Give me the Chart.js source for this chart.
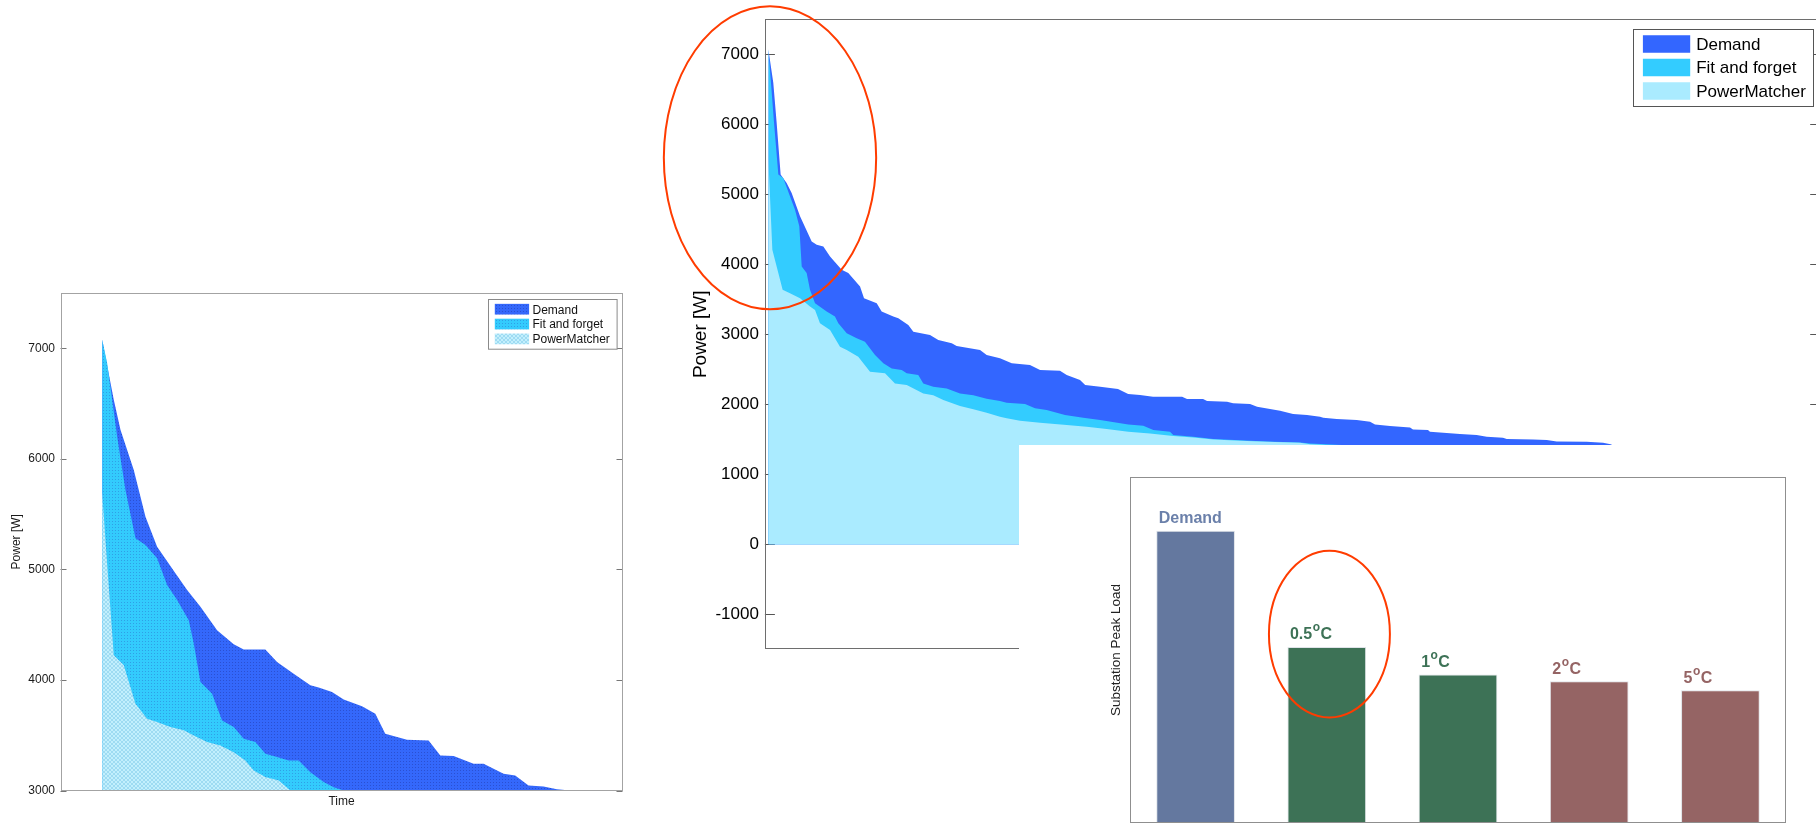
<!DOCTYPE html>
<html>
<head>
<meta charset="utf-8">
<script src="https://cdn.jsdelivr.net/npm/chart.js@4.4.1/dist/chart.umd.min.js"></script>
<style>
  html, body { margin:0; padding:0; background:#fff; overflow:hidden; width:1816px; height:824px; }
  canvas { position:absolute; display:block; }
  #zoomChart { left:0; top:280px; }
  #mainChart { left:580px; top:0; }
  #barChart  { left:1019px; top:445px; background:#fff; }
</style>
</head>
<body>
<canvas id="zoomChart" width="640" height="544"></canvas>
<canvas id="mainChart" width="1245" height="824"></canvas>
<canvas id="barChart" width="797" height="379"></canvas>
<script>
// ---------------- DATA ----------------
const seriesNames  = ["Demand", "Fit and forget", "PowerMatcher"];
const seriesColors = ["#3366ff", "#33ccff", "#aaebff"];

// Zoomed load-duration curve (left panel): time index 0..1000, power in W
const zoomTimeRange   = [0, 1000];
const zoomPowerRange  = [3000, 7500];
const zoomPowerTicks  = [3000, 4000, 5000, 6000, 7000];

const zoomDemandT = [74.1,94.8,106.7,130.4,151.2,171.9,204.5,225.3,249.0,278.6,308.2,326.0,364.5,385.3,414.9,444.6,459.4,483.1,503.9,536.5,560.2,577.9,616.5,655.0,675.8,699.5,735.0,752.8,788.4,809.1,832.8,859.5,883.2,906.9];
const zoomDemandW = [7079,6535,6263,5900,5477,5205,4964,4813,4662,4450,4323,4275,4275,4163,4057,3952,3931,3891,3822,3761,3695,3514,3459,3453,3317,3311,3242,3242,3151,3136,3045,3036,3012,3000];

const zoomFitT = [74.1,83.0,100.8,115.6,133.4,151.2,171.9,189.7,207.5,228.2,237.1,249.0,269.7,287.5,308.2,326.0,346.8,364.5,385.3,406.0,423.8,444.6,468.3,486.1,503.9];
const zoomFitW = [7079,6867,6202,5719,5281,5221,5100,4858,4722,4541,4329,3982,3876,3634,3574,3468,3438,3332,3302,3272,3272,3166,3076,3030,3000];

const zoomPmT = [74.1,83.0,94.8,112.6,133.4,154.1,171.9,195.6,219.3,237.1,260.8,284.5,308.2,329.0,343.8,364.5,388.3,409.0];
const zoomPmW = [5700,5050,4224,4133,3785,3650,3619,3574,3544,3498,3438,3408,3347,3272,3181,3121,3091,3000];

// Full load-duration curve (centre panel)
const mainTimeRange  = [0, 1006];
const mainPowerRange = [-1500, 7500];
const mainPowerTicks = [-1000, 0, 1000, 2000, 3000, 4000, 5000, 6000, 7000];

const mainDemandT = [3.3,8.0,11.2,15.0,20.7,25.5,33.5,44.6,49.4,55.7,62.1,73.2,79.5,90.7,94.5,106.6,111.3,122.4,127.2,136.7,141.5,157.4,165.3,178.1,182.8,205.1,211.4,224.1,235.3,252.7,262.3,281.3,287.7,300.4,305.3,319.6,336.6,346.3,357.6,370.0,397.7,402.4,417.7,421.5,440.6,446.3,462.5,469.2,491.1,503.5,516.8,529.2,532.3,545.1,564.2,576.9,581.6,595.9,615.0,617.8,632.1,634.0,649.9,662.6,678.5,688.1,703.6,707.2,732.3,745.3,754.8,783.4,799.0,807.3];
const mainDemandW = [7072,6594,6021,5282,5162,5019,4685,4327,4279,4255,4112,3921,3874,3683,3516,3444,3325,3253,3229,3134,3038,2990,2919,2871,2833,2776,2704,2658,2586,2562,2490,2481,2419,2347,2276,2252,2218,2147,2133,2109,2109,2075,2075,2047,2037,2014,2004,1965,1908,1861,1846,1822,1808,1789,1775,1751,1713,1689,1670,1641,1632,1608,1589,1574,1560,1536,1522,1503,1498,1489,1470,1465,1450,1427];

const mainFitT = [3.3,5.8,8.7,12.8,17.5,23.9,28.7,32.8,35.1,39.8,43.0,47.8,58.9,66.8,70.0,78.0,87.5,95.4,105.0,112.9,120.9,130.4,135.2,146.2,151.0,160.5,173.3,186.0,198.7,211.4,224.1,230.5,248.0,257.5,268.6,286.1,303.5,319.6,346.4,360.7,370.3,386.2,389.3,408.4,414.8,427.5,452.9,478.4,510.1,519.7,560,650,807.3];
const mainFitW = [7072,6594,6021,5282,5234,4971,4780,4542,3969,3874,3635,3444,3325,3253,3158,3014,2943,2895,2704,2585,2513,2489,2442,2418,2298,2251,2227,2155,2131,2080,2047,2023,2004,1942,1918,1846,1808,1775,1713,1694,1632,1608,1560,1536,1525,1505,1485,1470,1455,1440,1410,1360,1310];

const mainPmT = [3.3,7.1,12.8,16.9,23.9,33.5,43.0,47.8,52.5,62.1,71.6,78.0,89.0,100.2,114.5,124.0,135.2,151.0,160.5,170.1,186.0,198.7,211.4,224.1,230.5,243.2,262.3,287.7,306.8,325.8,346.4,367.1,389.3,408.4,427.5,452.9,478.4,510.1,519.7,560,650,807.3];
const mainPmW = [5500,4208,3874,3635,3587,3516,3396,3348,3158,3062,2823,2776,2680,2465,2442,2298,2274,2155,2131,2060,1975,1930,1880,1822,1799,1765,1737,1703,1679,1646,1608,1584,1546,1527,1498,1479,1465,1450,1431,1400,1350,1300];

// Substation peak load inset (bottom right)
const barCategories  = ["Demand", "0.5°C", "1°C", "2°C", "5°C"];
const barPeakLoads   = [84.5, 50.9, 42.9, 41.0, 38.4];
const barFillColors  = ["#64789f", "#3d7256", "#3d7256", "#956464", "#956464"];
const barTextColors  = ["#6b80aa", "#3d7256", "#3d7256", "#956464", "#956464"];

// ---------------- HELPERS ----------------
const FONT = '"Liberation Sans", Arial, Helvetica, sans-serif';
Chart.defaults.font.family = FONT;
Chart.defaults.color = '#000';

function pts(ts, ws) { return ts.map((t, i) => ({ x: t, y: ws[i] })); }

function makePattern(targetCanvas, base, dot, cells, size) {
  const tile = document.createElement('canvas');
  tile.width = size; tile.height = size;
  const g = tile.getContext('2d');
  g.fillStyle = base; g.fillRect(0, 0, size, size);
  g.fillStyle = dot;
  cells.forEach(([x, y]) => g.fillRect(x, y, 1, 1));
  return targetCanvas.getContext('2d').createPattern(tile, 'repeat');
}

const framePlugin = {
  id: 'frame',
  beforeDatasetsDraw(chart, args, o) {
    if (!o.tickLen) return;
    const { ctx, chartArea: a, scales: { y } } = chart;
    ctx.save();
    ctx.strokeStyle = o.tickColor; ctx.lineWidth = 1;
    ctx.beginPath();
    y.ticks.forEach(tk => {
      const py = Math.round(y.getPixelForValue(tk.value)) + 0.5;
      ctx.moveTo(a.left, py); ctx.lineTo(a.left + o.tickLen, py);
      ctx.moveTo(a.right, py); ctx.lineTo(a.right - o.tickLen, py);
    });
    ctx.stroke();
    ctx.restore();
  },
  afterDatasetsDraw(chart, args, o) {
    const { ctx, chartArea: a } = chart;
    ctx.save();
    ctx.strokeStyle = o.color; ctx.lineWidth = o.width;
    const l = Math.round(a.left) + 0.5, t = Math.round(a.top) + 0.5;
    const r = Math.round(a.right) - 0.5, b = Math.round(a.bottom) - 0.5;
    ctx.strokeRect(l, t, r - l, b - t);
    ctx.restore();
  }
};

const boxLegendPlugin = {
  id: 'boxLegend',
  afterDatasetsDraw(chart, args, o) {
    if (!o.width) return;
    const { ctx, chartArea: a } = chart;
    const x0 = Math.round(a.right - o.marginRight - o.width) + 0.5;
    const y0 = Math.round(a.top + o.marginTop) + 0.5;
    ctx.save();
    ctx.fillStyle = '#fff'; ctx.fillRect(x0, y0, o.width, o.height);
    ctx.strokeStyle = o.borderColor; ctx.lineWidth = 1;
    ctx.strokeRect(x0, y0, o.width, o.height);
    ctx.font = o.font; ctx.textBaseline = 'middle'; ctx.textAlign = 'left';
    chart.data.datasets.forEach((ds, i) => {
      const cy = y0 + o.rowStart + i * o.rowGap;
      ctx.fillStyle = ds.backgroundColor;
      ctx.fillRect(x0 + o.swatchX, cy - o.swatchH / 2, o.swatchW, o.swatchH);
      ctx.fillStyle = o.textColor;
      ctx.fillText(ds.label, x0 + o.textX, cy + 1);
    });
    ctx.restore();
  }
};

const ringPlugin = {
  id: 'ring',
  afterDraw(chart, args, o) {
    if (o.rx === undefined) return;
    const { ctx, scales: { x, y } } = chart;
    const cx = x.getPixelForValue(o.x), cy = y.getPixelForValue(o.y);
    const rx = Math.abs(x.getPixelForValue(o.x + o.rx) - cx);
    const ry = Math.abs(y.getPixelForValue(o.y + o.ry) - cy);
    ctx.save();
    ctx.strokeStyle = o.color; ctx.lineWidth = o.width;
    ctx.beginPath(); ctx.ellipse(cx, cy, rx, ry, 0, 0, Math.PI * 2); ctx.stroke();
    ctx.restore();
  }
};

const barLabelPlugin = {
  id: 'barLabels',
  afterDatasetsDraw(chart, args, o) {
    const { ctx } = chart;
    const meta = chart.getDatasetMeta(0);
    meta.data.forEach((bar, i) => {
      const left = bar.x - bar.width / 2 + o.dx;
      const base = bar.y - o.dy;
      const parts = String(chart.data.labels[i]).split('°');
      ctx.save();
      ctx.fillStyle = barTextColors[i];
      ctx.textAlign = 'left'; ctx.textBaseline = 'alphabetic';
      ctx.font = o.font;
      ctx.fillText(parts[0], left, base);
      if (parts.length > 1) {
        let xx = left + ctx.measureText(parts[0]).width + 0.5;
        ctx.font = o.supFont;
        ctx.fillText('o', xx, base - o.supRaise);
        xx += ctx.measureText('o').width + 0.5;
        ctx.font = o.font;
        ctx.fillText(parts[1], xx, base);
      }
      ctx.restore();
    });
  }
};

function areaSet(label, t, w, color, order, fillTo) {
  return { label, data: pts(t, w), backgroundColor: color, borderColor: 'rgba(0,0,0,0)',
           borderWidth: 0, pointRadius: 0, pointHoverRadius: 0, tension: 0, fill: fillTo, order };
}

// ---------------- LEFT (zoomed) CHART ----------------
const zoomCanvas = document.getElementById('zoomChart');
const zoomFills = [
  makePattern(zoomCanvas, '#3468fb', '#2a50d2', [[1, 1]], 3),
  makePattern(zoomCanvas, '#33cbfd', '#2f9fe6', [[1, 1]], 3),
  makePattern(zoomCanvas, '#c2effd', '#9edbf2', [[0, 0], [1, 1], [2, 2], [3, 3], [3, 0], [2, 1], [1, 2], [0, 3]], 4)
];

new Chart(zoomCanvas, {
  type: 'line',
  data: { datasets: [
    areaSet(seriesNames[0], zoomDemandT, zoomDemandW, zoomFills[0], 3, 'start'),
    areaSet(seriesNames[1], zoomFitT, zoomFitW, zoomFills[1], 2, 'start'),
    areaSet(seriesNames[2], zoomPmT, zoomPmW, zoomFills[2], 1, 'start')
  ]},
  options: {
    responsive: false, animation: false, events: [],
    layout: { padding: { top: 13, right: 17.5, bottom: 0, left: 0 } },
    plugins: {
      legend: { display: false }, tooltip: { enabled: false },
      frame: { color: '#a3a3a3', width: 1, tickLen: 6, tickColor: '#777' },
      boxLegend: { width: 128.6, height: 49.7, marginRight: 6.2, marginTop: 6.3, rowStart: 9.7, rowGap: 14.85,
                   swatchX: 6.3, swatchW: 34.3, swatchH: 10.7, textX: 44, font: '12px ' + FONT,
                   textColor: '#111', borderColor: '#8a8a8a' }
    },
    scales: {
      x: { type: 'linear', min: zoomTimeRange[0], max: zoomTimeRange[1],
           grid: { display: false, drawTicks: false }, border: { display: false },
           ticks: { display: false },
           title: { display: true, text: 'Time', color: '#1a1a1a', font: { size: 12 }, padding: { top: 0, bottom: 14.8 } },
           afterFit(s) { s.height = 33.5; } },
      y: { type: 'linear', min: zoomPowerRange[0], max: zoomPowerRange[1],
           grid: { display: false, drawTicks: false }, border: { display: false },
           afterBuildTicks(s) { s.ticks = zoomPowerTicks.map(v => ({ value: v })); },
           ticks: { autoSkip: false, padding: 5.5, color: '#1a1a1a', font: { size: 12 }, callback: v => String(v) },
           title: { display: true, text: 'Power [W]', color: '#1a1a1a', font: { size: 12 }, padding: { top: 9.8, bottom: 0 } },
           afterFit(s) { s.width = 60.5; } }
    }
  },
  plugins: [framePlugin, boxLegendPlugin]
});

// ---------------- CENTRE (full) CHART ----------------
new Chart(document.getElementById('mainChart'), {
  type: 'line',
  data: { datasets: [
    areaSet(seriesNames[0], mainDemandT, mainDemandW, seriesColors[0], 3, 'origin'),
    areaSet(seriesNames[1], mainFitT, mainFitW, seriesColors[1], 2, 'origin'),
    areaSet(seriesNames[2], mainPmT, mainPmW, seriesColors[2], 1, 'origin')
  ]},
  options: {
    responsive: false, animation: false, events: [],
    layout: { padding: { top: 19.3, right: 4.8, bottom: 0, left: 0 } },
    plugins: {
      legend: { display: false }, tooltip: { enabled: false },
      frame: { color: '#6e6e6e', width: 1, tickLen: 10, tickColor: '#555' },
      boxLegend: { width: 180, height: 77, marginRight: 7.2, marginTop: 9.7, rowStart: 14.5, rowGap: 23.5,
                   swatchX: 9.4, swatchW: 47.3, swatchH: 17.5, textX: 62.7, font: '17px ' + FONT,
                   textColor: '#000', borderColor: '#555' },
      ring: { x: 4.86, y: 5521, rx: 101.2, ry: 2164, color: '#ff3c00', width: 2 }
    },
    scales: {
      x: { type: 'linear', min: mainTimeRange[0], max: mainTimeRange[1],
           grid: { display: false, drawTicks: false }, border: { display: false },
           ticks: { display: false },
           afterFit(s) { s.height = 174.7; } },
      y: { type: 'linear', min: mainPowerRange[0], max: mainPowerRange[1],
           grid: { display: false, drawTicks: false }, border: { display: false },
           afterBuildTicks(s) { s.ticks = mainPowerTicks.map(v => ({ value: v })); },
           ticks: { autoSkip: false, padding: 6, color: '#000', font: { size: 17 }, callback: v => String(v) },
           title: { display: true, text: 'Power [W]', color: '#000', font: { size: 19 }, padding: { top: 109.1, bottom: 0 } },
           afterFit(s) { s.width = 184.9; } }
    }
  },
  plugins: [framePlugin, boxLegendPlugin, ringPlugin]
});

// ---------------- INSET BAR CHART ----------------
new Chart(document.getElementById('barChart'), {
  type: 'bar',
  data: { labels: barCategories, datasets: [{
    label: 'Substation Peak Load', data: barPeakLoads, backgroundColor: barFillColors,
    borderColor: '#dfe3e8', borderWidth: 1, borderSkipped: 'bottom',
    categoryPercentage: 1, barPercentage: 0.6
  }]},
  options: {
    responsive: false, animation: false, events: [],
    layout: { padding: { top: 32, right: 30, bottom: 1, left: 0 } },
    plugins: {
      legend: { display: false }, tooltip: { enabled: false },
      frame: { color: '#8f8f8f', width: 1, tickLen: 0 },
      boxLegend: {},
      ring: { x: 1.02, y: 54.6, rx: 0.461, ry: 24.1, color: '#ff3c00', width: 2 },
      barLabels: { dx: 2.5, dy: 7.5, font: 'bold 16px ' + FONT, supFont: 'bold 12px ' + FONT, supRaise: 8 }
    },
    scales: {
      x: { grid: { display: false, drawTicks: false }, border: { display: false }, ticks: { display: false },
           afterFit(s) { s.height = 0; } },
      y: { min: 0, max: 100, grid: { display: false, drawTicks: false }, border: { display: false },
           ticks: { display: false },
           title: { display: true, text: 'Substation Peak Load', color: '#222', font: { size: 13.5 }, padding: { top: 89.2, bottom: 0 } },
           afterFit(s) { s.width = 111; } }
    }
  },
  plugins: [framePlugin, barLabelPlugin, ringPlugin]
});
</script>
</body>
</html>
